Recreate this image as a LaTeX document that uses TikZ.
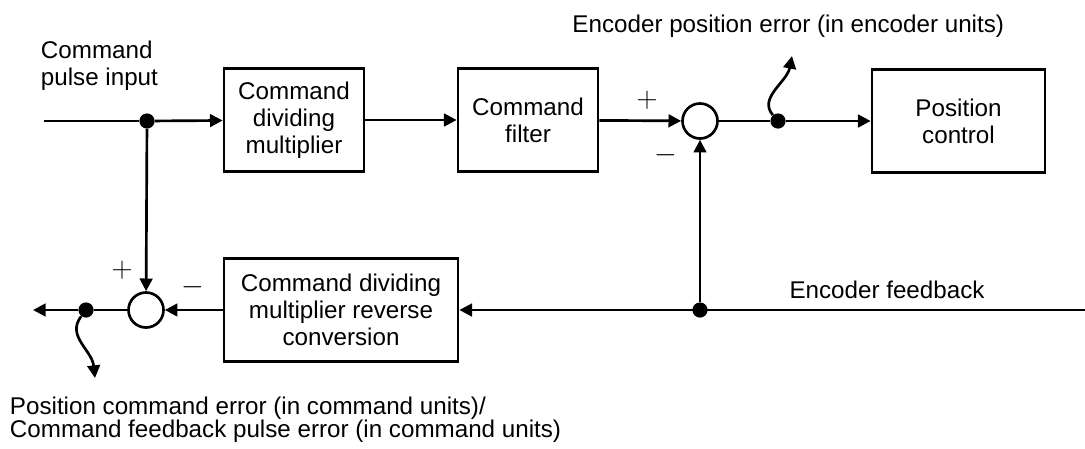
\documentclass[tikz,border=0pt]{standalone}
\usepackage{fontspec}
\setmainfont{Liberation Sans}
\usetikzlibrary{arrows.meta,positioning}

\begin{document}
\begin{tikzpicture}[x=0.025cm,y=-0.025cm,
    every node/.style={font=\fontsize{17.2}{19.2}\selectfont},
    box/.style={draw,line width=1.9pt,minimum width=3.5cm,
                minimum height=2.575cm,align=center,inner sep=2pt},
    sum/.style={draw,circle,line width=1.9pt,minimum size=0.875cm,inner sep=0pt},
    dot/.style={circle,fill,minimum size=0.38cm,inner sep=0pt},
    sign/.style={font=\fontsize{22}{22}\selectfont,inner sep=0pt},
    ln/.style={line width=1.9pt},
    arr/.style={-{Triangle[length=9pt,width=9pt]},line width=1.9pt}]

  \useasboundingbox (0,0) rectangle (1085,448);

  %% Forward path
  \coordinate (cin) at (44,121);
  \node[dot] (din) at (147,121) {};
  \node[box] (cdm) at (294,120) {Command\\dividing\\multiplier};
  \node[box] (cfil) at (528,120) {Command\\filter};
  \node[sum] (sumenc) at (700,121) {};
  \node[dot] (denc) at (778,121) {};
  \node[box,minimum width=4.325cm] (pctl) at (958.5,121) {Position\\control};

  %% Feedback path
  \coordinate (fbin) at (1085,310);
  \node[dot] (dfb) at (700,310) {};
  \node[box,minimum width=5.85cm] (cdmr) at (341,310)
       {Command dividing\\multiplier reverse\\conversion};
  \node[sum] (sumcmd) at (146,310) {};
  \node[dot] (dcmd) at (86,310) {};
  \coordinate (cout) at (33,310);

  %% Error outputs
  \coordinate (encerr) at (792,56);
  \coordinate (cmderr) at (95,378);

  %% Labels
  \node[anchor=west,align=left] (lin) at (36,66) {Command\\pulse input};
  \node[anchor=east] (lencerr) at (1009,26) {Encoder position error (in encoder units)};
  \node (lfb) at (887,290) {Encoder feedback};
  \node[anchor=west,align=left,font=\fontsize{17.2}{16.5}\selectfont] (lcmderr) at (5,420)
       {Position command error (in command units)/\\Command feedback pulse error (in command units)};
  \node[sign] (p1) at (647,100) {$+$};
  \node[sign] (m1) at (666,155) {$-$};
  \node[sign] (p2) at (122,270) {$+$};
  \node[sign] (m2) at (193,287) {$-$};

  %% Arrows
  \draw[ln] (cin) -- (din);
  \draw[arr] (din) -- (cdm);
  \draw[arr] (cdm) -- (cfil);
  \draw[arr] (cfil) -- (sumenc);
  \draw[ln] (sumenc) -- (denc);
  \draw[arr] (denc) -- (pctl);
  \draw[arr] (fbin) -- (cdmr);
  \draw[arr] (dfb) -- (sumenc);
  \draw[arr] (din) -- (sumcmd);
  \draw[arr] (cdmr) -- (sumcmd);
  \draw[ln] (sumcmd) -- (dcmd);
  \draw[arr] (dcmd) -- (cout);
  \draw[arr] (denc) .. controls (758,98) and (787,82) .. (encerr);
  \draw[arr] (dcmd) .. controls (66,336) and (92,350) .. (cmderr);
\end{tikzpicture}
\end{document}
